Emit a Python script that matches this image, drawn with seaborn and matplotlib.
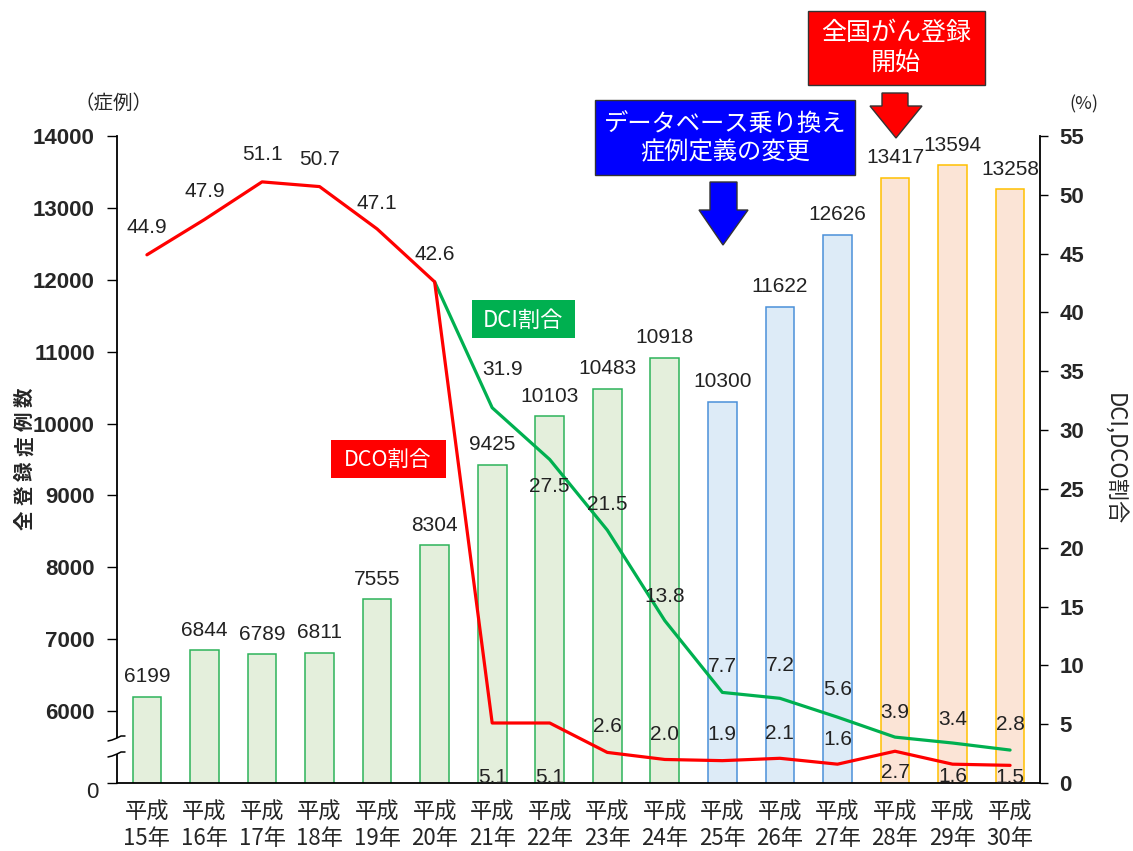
import numpy as np
import pandas as pd
import seaborn as sns
import matplotlib.pyplot as plt
from matplotlib.patches import Rectangle, Polygon

# data
years = ['平成\n15年', '平成\n16年', '平成\n17年', '平成\n18年', '平成\n19年', '平成\n20年',
         '平成\n21年', '平成\n22年', '平成\n23年', '平成\n24年', '平成\n25年', '平成\n26年',
         '平成\n27年', '平成\n28年', '平成\n29年', '平成\n30年']
cases = [6199, 6844, 6789, 6811, 7555, 8304, 9425, 10103, 10483, 10918,
         10300, 11622, 12626, 13417, 13594, 13258]
period = ['old'] * 10 + ['newdb'] * 3 + ['national'] * 3
dco = [44.9, 47.9, 51.1, 50.7, 47.1, 42.6, 5.1, 5.1, 2.6, 2.0, 1.9, 2.1, 1.6, 2.7, 1.6, 1.5]
dci = [np.nan] * 5 + [42.6, 31.9, 27.5, 21.5, 13.8, 7.7, 7.2, 5.6, 3.9, 3.4, 2.8]

# the left axis is broken: the bottom tick (5000) stands for 0
left_ticks = [5000, 6000, 7000, 8000, 9000, 10000, 11000, 12000, 13000, 14000]
left_labels = ['', '6000', '7000', '8000', '9000', '10000', '11000', '12000', '13000', '14000']
right_ticks = list(range(0, 56, 5))

# label offsets in pixels (negative = above the point)
dco_dy = [-27, -28, -27, -27, -25, -27, 54, 54, -26, -25, -26, -25, -25, 21, 12, 12]
dci_dy = [None] * 6 + [-38, 27, -26, -24, -26, -33, -28, -25, -24, -26]
dci_dx = [0] * 6 + [10, 0, 0, 0, 0, 0, 0, 0, 0, 0]

fills = {'old': '#E4EFDC', 'newdb': '#DDEBF7', 'national': '#FBE4D6'}
edges = {'old': '#2DB35A', 'newdb': '#4A90D9', 'national': '#FFC000'}
RED = '#FF0000'
GREEN = '#00B050'

sns.set_theme(style='white')
plt.rcParams['font.family'] = ['Noto Sans CJK JP', 'DejaVu Sans']
NUM = 'Liberation Sans'
PX = 0.72  # points per pixel at dpi 100

W, H = 1133, 851
fig = plt.figure(figsize=(W / 100, H / 100), dpi=100)
ax = fig.add_axes([117 / W, 1 - 783 / H, (1040 - 117) / W, (783 - 136) / H])

df = pd.DataFrame({'year': years, 'cases': cases, 'period': period})
sns.barplot(data=df, x='year', y='cases', hue='period', hue_order=list(fills),
            palette=fills, width=0.5, dodge=False, saturation=1, legend=False, ax=ax)
for cont, key in zip(ax.containers, fills):
    for bar in cont:
        bar.set_edgecolor(edges[key])
        bar.set_linewidth(1.1)

ax.set_xlim(-0.52, 15.52)
ax.set_ylim(5000, 14000)
ax.set_yticks(left_ticks)
ax.set_yticklabels(left_labels)
for lab in ax.get_yticklabels():
    lab.set_fontproperties({'family': NUM, 'size': 16, 'weight': 'bold'})
ax.tick_params(axis='y', direction='out', length=7, width=1, color='black', pad=9, left=True)
ax.tick_params(axis='x', length=0, labelsize=16, pad=13)
for lab in ax.get_xticklabels():
    lab.set_linespacing(1.15)
ax.set_xlabel('')
ax.set_ylabel('')
for side in ['top', 'right']:
    ax.spines[side].set_visible(False)
for side in ['left', 'bottom']:
    ax.spines[side].set_color('black')
    ax.spines[side].set_linewidth(1.3)

for i, v in enumerate(cases):
    ax.annotate(str(v), (i, v), xytext=(0, 20 * PX), textcoords='offset points',
                ha='center', va='center', fontsize=15, family=NUM, color='#222222')

ax2 = ax.twinx()
x = np.arange(len(years))
sns.lineplot(x=x, y=dci, color=GREEN, linewidth=2.3, ax=ax2)
sns.lineplot(x=x, y=dco, color=RED, linewidth=2.3, ax=ax2)
ax2.set_ylim(0, 55)
ax2.set_yticks(right_ticks)
ax2.set_yticklabels([str(t) for t in right_ticks])
for lab in ax2.get_yticklabels():
    lab.set_fontproperties({'family': NUM, 'size': 16, 'weight': 'bold'})
ax2.tick_params(axis='y', direction='out', length=6, width=1, color='black', pad=8, right=True)
ax2.set_ylabel('DCI,DCO割合', rotation=270, fontsize=16)
ax2.yaxis.set_label_coords(1.092, 0.50)
for side in ['top', 'left', 'bottom']:
    ax2.spines[side].set_visible(False)
ax2.spines['right'].set_color('black')
ax2.spines['right'].set_linewidth(1.3)

for i, v in enumerate(dco):
    ax2.annotate(f'{v:.1f}', (i, v), xytext=(0, -dco_dy[i] * PX), textcoords='offset points',
                 ha='center', va='center', fontsize=15, family=NUM, color='#222222')
for i, v in enumerate(dci):
    if dci_dy[i] is None:
        continue
    ax2.annotate(f'{v:.1f}', (i, v), xytext=(dci_dx[i] * PX, -dci_dy[i] * PX),
                 textcoords='offset points', ha='center', va='center',
                 fontsize=15, family=NUM, color='#222222')

# overlay in pixel coordinates for callouts, axis titles and the axis break
ov = fig.add_axes([0, 0, 1, 1], zorder=10)
ov.set_xlim(0, W)
ov.set_ylim(H, 0)
ov.axis('off')
ov.patch.set_alpha(0)

ov.text(113, 103, '（症例）', ha='center', va='center', fontsize=14)
ov.text(1084, 104, '(%)', ha='center', va='center', fontsize=13)
ov.text(92, 792, '0', ha='center', va='center', fontsize=16, family=NUM, color='#222222')

# spaced vertical axis title
for k, ch in enumerate('全登録症例数'):
    ov.text(25, 520 - k * 24.6, ch, rotation=90, ha='center', va='center',
            fontsize=14, fontweight='bold')

ov.add_patch(Rectangle((808, 11), 177, 74, facecolor=RED, edgecolor='#333333', lw=1))
ov.text(896, 48, '全国がん登録\n開始', ha='center', va='center', color='white',
        fontsize=18, linespacing=1.15)
ov.add_patch(Polygon([(882, 93), (908, 93), (908, 106), (922, 106), (896, 138),
                      (870, 106), (882, 106)], facecolor=RED, edgecolor='#333333', lw=1))

ov.add_patch(Rectangle((595, 100), 260, 75, facecolor='#0000FF', edgecolor='#333333', lw=1))
ov.text(725, 138, 'データベース乗り換え\n症例定義の変更', ha='center', va='center',
        color='white', fontsize=17.5, linespacing=1.15)
ov.add_patch(Polygon([(710, 182), (737, 182), (737, 210), (748, 210), (723, 245),
                      (699, 210), (710, 210)], facecolor='#0000FF', edgecolor='#333333', lw=1))

ov.add_patch(Rectangle((472, 300), 103, 38, facecolor=GREEN, edgecolor='none'))
ov.text(523, 320, 'DCI割合', ha='center', va='center', color='white', fontsize=16)
ov.add_patch(Rectangle((331, 440), 115, 38, facecolor=RED, edgecolor='none'))
ov.text(388, 460, 'DCO割合', ha='center', va='center', color='white', fontsize=15.5)

# axis break on the left spine
ov.add_patch(Rectangle((112, 738), 10, 16, facecolor='white', edgecolor='none'))
for yb in (739, 755):
    ov.plot([108, 112, 117, 121, 125], [yb + 2, yb + 1, yb - 1, yb - 3, yb - 3],
            color='black', lw=1.1)

fig.savefig('out.png', dpi=100)
